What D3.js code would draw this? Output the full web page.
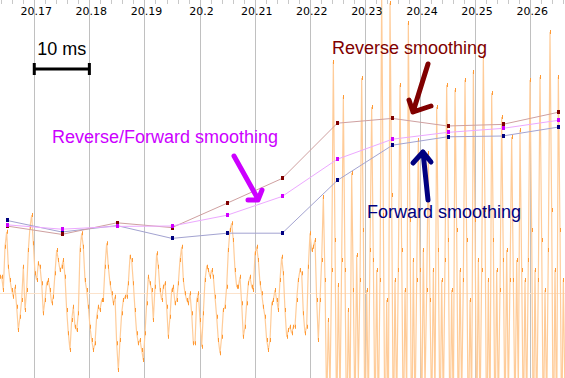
<!DOCTYPE html>
<html>
<head>
<meta charset="utf-8">
<script src="https://cdn.jsdelivr.net/npm/d3@7"></script>
<style>
  body { margin: 0; background: #fff; }
  svg { display: block; }
</style>
</head>
<body>
<div id="chart"></div>
<script>
// Time axis (seconds)
const tickValues = [20.17, 20.18, 20.19, 20.2, 20.21, 20.22, 20.23, 20.24, 20.25, 20.26];
const tickLabels = ["20.17", "20.18", "20.19", "20.2", "20.21", "20.22", "20.23", "20.24", "20.25", "20.26"];

// Smoothed contour, one frame every 10 ms
const frameTimes = [20.165, 20.175, 20.185, 20.195, 20.205, 20.215, 20.225, 20.235, 20.245, 20.255, 20.265];
const forwardSmooth = [44.9, 42.0, 43.6, 40.4, 41.7, 41.7, 54.9, 63.7, 65.8, 66.0, 68.2];
const revFwdSmooth  = [43.8, 42.7, 43.4, 43.5, 46.2, 50.9, 60.2, 65.2, 66.9, 67.9, 69.9];
const reverseSmooth = [43.5, 41.4, 44.3, 43.1, 49.2, 55.4, 69.2, 70.4, 68.5, 68.9, 71.9];

// Waveform samples
const waveStart = 20.16378;
const sampleRate = 3306;
const wave = [
  65, 65, 12, 185, 245, 105, 52, 12, -15, 25, -55, -148, -95, -28, 105, -68, 12, 172, 265, 312,
  199, 79, 52, 119, 105, 39, -81, -28, 39, 52, 12, -41, -15, 79, 172, 132, 92, 105, 132, 65,
  -68, -161, -228, -108, -55, -135, -148, -81, 172, 239, 185, 52, 12, -55, -135, -188, -228, -201, -95, -55,
  -68, -28, -28, 105, 199, 105, 39, -1, -41, -15, -201, -308, -188, -81, -28, -15, -15, 39, 145, 132,
  39, -68, -161, -201, -188, -228, -268, -161, -41, 65, 39, 12, -108, 25, 159, 105, 12,
  -28, 25, 39, -55, -175, -95, 12, 25, -41, -28, 39, 132, 185, 52, -1, -28, -41, -1, -81, -201,
  -201, -28, -1, -108, -215, -81, 52, 105, 92, 65, 92, 65, -15, -95, -188, -241, -175, -68, -55, 25,
  172, 252, 279, 212, 92, 25, 25, 65, -41, -175, -135, -41, 39, 65, 25, 12, 159, 185, 132, 39,
  -1, -55, -95, -188, -228, -188, -41, -28, 12, -28, -68, 52, 145, 79, -68, -175, -148, -135, -161, -135,
  -135, -28, 52, 92, 79, -81, -161, -135, 105, 239, 172, 185,
  212, -28, -188, -28, 132,
  384, 52, -468, -108, -388, 92,
  924, 212, -548, 32, -428, 132,
  784, 92, -588, -68, -468,
  480, 12, -508, 152, -348, 52,
  860, 252, -628, 12, -468, 172,
  744, 132, -548, 92, -508, 52,
  1200, 312, -668, -28, -548,
  1160, 392, -628, 52, -468, 92,
  832, 172, -588, 12, -428,
  1080, 292, -668, 132, -508, 52,
  612, 92, -548, 172, -388, 12,
  560, -28, -508, 92, -428,
  744, 172, -588, 52, -468, 132,
  832, 212, -628, 12, -508,
  812, 252, -588, 92, -428, 52,
  852, 212, -628, -28, -468,
  884, 292, -588, 132, -508, 92,
  944, 332, -668, 52, -548,
  800, 212, -588, 92, -468, 12,
  704, 132, -548, 172, -428, 52,
  624, 52, -508, 132, -388,
  652, 92, -548, 52, -468, 132,
  852, 252, -628, 92, -508, 52,
  864, 212, -588, 12, -468, 172,
  1044, 332, -668, 92, -548,
  864, 252, -588, 52, -428
];

const width = 565, height = 378;

const svg = d3.select("#chart")
  .append("svg")
    .attr("width", width)
    .attr("height", height)
    .style("font-family", "'DejaVu Sans', Verdana, sans-serif");

const x = d3.scaleLinear()
    .domain([20.16378, 20.26632])
    .range([0, width]);

const yWave = d3.scaleLinear()
    .domain([-1000, 1000])
    .range([543, 43]);

const yLine = d3.scaleLinear()
    .domain([0, 100])
    .range([400, 0]);

// Minor ticks along the top edge
const minor = d3.range(20.164, 20.267, 0.002);
svg.append("g")
  .selectAll("line")
  .data(minor)
  .join("line")
    .attr("x1", d => Math.round(x(d)) + 0.5)
    .attr("x2", d => Math.round(x(d)) + 0.5)
    .attr("y1", 0)
    .attr("y2", 4)
    .attr("stroke", "#c8c8c8");

// Vertical grid lines
svg.append("g")
  .selectAll("line")
  .data(tickValues)
  .join("line")
    .attr("x1", d => Math.round(x(d)) + 0.5)
    .attr("x2", d => Math.round(x(d)) + 0.5)
    .attr("y1", 0)
    .attr("y2", height)
    .attr("stroke", "#c0c0c0");

// Zero line of the waveform
svg.append("line")
    .attr("x1", 0).attr("x2", width)
    .attr("y1", Math.round(yWave(0)) + 0.5)
    .attr("y2", Math.round(yWave(0)) + 0.5)
    .attr("stroke", "#fce3cc");

// Waveform
const waveData = wave.map((v, i) => ({t: waveStart + i / sampleRate, v: v}));
svg.append("path")
    .datum(waveData)
    .attr("fill", "none")
    .attr("stroke", "#ffcc99")
    .attr("stroke-width", 1.2)
    .attr("d", d3.line().x(d => x(d.t)).y(d => yWave(d.v)));

svg.append("g")
  .selectAll("rect")
  .data(waveData)
  .join("rect")
    .attr("x", d => Math.round(x(d.t)))
    .attr("y", d => yWave(d.v) - 2)
    .attr("width", 1)
    .attr("height", 4)
    .attr("fill", "#ff9933");

// Tick labels
svg.append("g")
  .selectAll("text")
  .data(tickValues)
  .join("text")
    .attr("x", d => x(d) + 2)
    .attr("y", 15)
    .attr("text-anchor", "middle")
    .attr("font-size", 11)
    .attr("fill", "#000")
    .text((d, i) => tickLabels[i]);

// Smoothed contours
const series = [
  {values: forwardSmooth, line: "#a3a3d1", point: "#000080"},
  {values: reverseSmooth, line: "#cfa0a0", point: "#800000"},
  {values: revFwdSmooth, line: "#eca8ff", point: "#d000ff"}
];
const contour = d3.line()
    .x(d => x(d.t))
    .y(d => yLine(d.v));

series.forEach(s => {
  const pts = frameTimes.map((t, i) => ({t: t, v: s.values[i]}));
  svg.append("path")
      .datum(pts)
      .attr("fill", "none")
      .attr("stroke", s.line)
      .attr("stroke-width", 1)
      .attr("d", contour);
});
series.forEach(s => {
  const pts = frameTimes.map((t, i) => ({t: t, v: s.values[i]}));
  svg.append("g")
    .selectAll("rect")
    .data(pts)
    .join("rect")
      .attr("x", d => Math.round(x(d.t)) - 1)
      .attr("y", d => Math.round(yLine(d.v)) - 2)
      .attr("width", 3)
      .attr("height", 4)
      .attr("fill", s.point);
});

// 10 ms scale bar
const barY = 69;
svg.append("path")
    .attr("d", `M${x(20.17)},${barY}H${x(20.18)}M${x(20.17)},${barY - 6}V${barY + 6}M${x(20.18)},${barY - 6}V${barY + 6}`)
    .attr("stroke", "#000")
    .attr("stroke-width", 3)
    .attr("fill", "none");
svg.append("text")
    .attr("x", (x(20.17) + x(20.18)) / 2)
    .attr("y", 55)
    .attr("text-anchor", "middle")
    .attr("font-family", "'Liberation Sans', Arial, sans-serif")
    .attr("font-size", 18)
    .text("10 ms");

// Annotations
const notes = [
  {text: "Reverse smoothing", x: 332, y: 54, color: "#800000"},
  {text: "Reverse/Forward smoothing", x: 52, y: 143, color: "#cc00ff"},
  {text: "Forward smoothing", x: 367, y: 218, color: "#000080"}
];
svg.append("g")
  .selectAll("text")
  .data(notes)
  .join("text")
    .attr("x", d => d.x)
    .attr("y", d => d.y)
    .attr("font-family", "'Liberation Sans', Arial, sans-serif")
    .attr("font-size", 18)
    .attr("fill", d => d.color)
    .text(d => d.text);

const arrows = [
  {d: "M234,156L258,199M248,200L258,200L262,190", color: "#cc00ff"},
  {d: "M428,64L413,112M409,100L413,112L431,106", color: "#800000"},
  {d: "M428,200L423,152M413,163L423,152L431,162", color: "#000080"}
];
svg.append("g")
  .selectAll("path")
  .data(arrows)
  .join("path")
    .attr("d", d => d.d)
    .attr("fill", "none")
    .attr("stroke", d => d.color)
    .attr("stroke-width", 5)
    .attr("stroke-linecap", "round")
    .attr("stroke-linejoin", "round");
</script>
</body>
</html>
